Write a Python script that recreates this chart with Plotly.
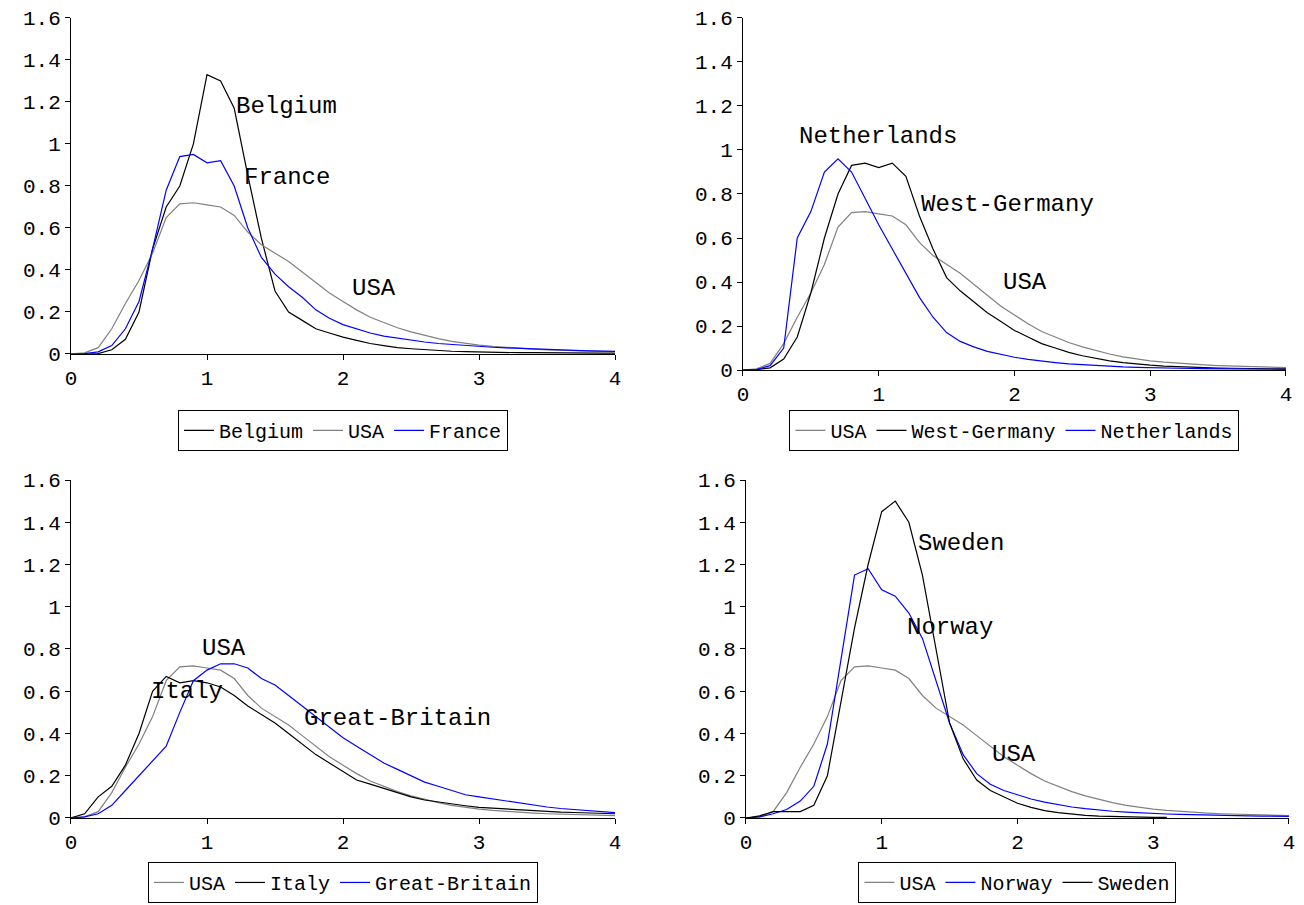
import plotly.graph_objects as go

x = [i / 10 for i in range(41)]

usa = [0, 0.005, 0.03, 0.12, 0.24, 0.35, 0.48, 0.65, 0.715, 0.72, 0.71, 0.70, 0.66, 0.58, 0.52, 0.48,
       0.44, 0.39, 0.34, 0.29, 0.25, 0.21, 0.175, 0.15, 0.125, 0.105, 0.088, 0.073, 0.06, 0.05, 0.042,
       0.036, 0.031, 0.027, 0.023, 0.02, 0.018, 0.016, 0.014, 0.012, 0.011]
belgium = [0, 0, 0.002, 0.02, 0.07, 0.2, 0.5, 0.7, 0.8, 1.0, 1.33, 1.30, 1.17, 0.85, 0.55, 0.3,
           0.2, 0.16, 0.12, 0.1, 0.08, 0.065, 0.05, 0.04, 0.03, 0.025, 0.02, 0.016, 0.013, 0.011, 0.009,
           0.008, 0.007, 0.006, 0.006, 0.005, 0.005, 0.005, 0.004, 0.004, 0.004]
france = [0, 0.002, 0.01, 0.04, 0.12, 0.25, 0.5, 0.78, 0.94, 0.95, 0.91, 0.92, 0.8, 0.6, 0.46, 0.38,
          0.32, 0.27, 0.21, 0.17, 0.14, 0.12, 0.1, 0.085, 0.075, 0.065, 0.057, 0.05, 0.045, 0.04, 0.036,
          0.032, 0.029, 0.026, 0.023, 0.021, 0.019, 0.017, 0.015, 0.013, 0.012]
west_germany = [0, 0.002, 0.01, 0.05, 0.15, 0.35, 0.6, 0.8, 0.93, 0.94, 0.92, 0.94, 0.88, 0.7, 0.55, 0.42,
                0.36, 0.31, 0.26, 0.22, 0.18, 0.15, 0.12, 0.1, 0.08, 0.065, 0.052, 0.042, 0.034, 0.027, 0.022,
                0.018, 0.015, 0.012, 0.01, 0.009, 0.008, 0.007, 0.006, 0.005, 0.005]
netherlands = [0, 0.002, 0.02, 0.1, 0.6, 0.72, 0.9, 0.96, 0.9, 0.78, 0.66, 0.55, 0.44, 0.33, 0.24, 0.17,
               0.13, 0.105, 0.085, 0.07, 0.058, 0.048, 0.04, 0.034, 0.028, 0.024, 0.02, 0.017, 0.014, 0.012, 0.01,
               0.009, 0.008, 0.007, 0.006, 0.005, 0.005, 0.004, 0.004, 0.003, 0.003]
italy = [0, 0.02, 0.1, 0.15, 0.25, 0.4, 0.6, 0.67, 0.64, 0.65, 0.64, 0.62, 0.58, 0.53, 0.49, 0.45,
         0.4, 0.35, 0.3, 0.26, 0.22, 0.18, 0.16, 0.14, 0.12, 0.1, 0.085, 0.075, 0.065, 0.058, 0.05,
         0.046, 0.042, 0.038, 0.034, 0.031, 0.028, 0.026, 0.024, 0.022, 0.02]
great_britain = [0, 0.005, 0.02, 0.06, 0.13, 0.2, 0.27, 0.34, 0.5, 0.65, 0.7, 0.73, 0.73, 0.71, 0.66, 0.63,
                 0.58, 0.53, 0.48, 0.43, 0.38, 0.34, 0.3, 0.26, 0.23, 0.2, 0.17, 0.15, 0.13, 0.11, 0.1,
                 0.09, 0.08, 0.07, 0.06, 0.052, 0.045, 0.04, 0.034, 0.03, 0.025]
sweden = [0, 0.01, 0.03, 0.03, 0.03, 0.06, 0.2, 0.55, 0.9, 1.2, 1.45, 1.5, 1.4, 1.15, 0.8, 0.45,
          0.28, 0.18, 0.13, 0.1, 0.07, 0.05, 0.035, 0.025, 0.018, 0.012, 0.009, 0.007, 0.005, 0.004, 0.003,
          0.003]
norway = [0, 0.005, 0.02, 0.04, 0.08, 0.15, 0.35, 0.75, 1.15, 1.18, 1.08, 1.05, 0.97, 0.85, 0.65, 0.45,
          0.3, 0.21, 0.16, 0.13, 0.11, 0.09, 0.075, 0.062, 0.052, 0.044, 0.037, 0.032, 0.028, 0.024, 0.021,
          0.019, 0.017, 0.015, 0.013, 0.012, 0.011, 0.01, 0.009, 0.008, 0.008]

BLACK, GREY, BLUE = "#000000", "#808080", "#0000ff"
FONT = "Liberation Mono"

panels = [
    # (series, x domain, y domain, legend y, labels)
    ([("Belgium", belgium, BLACK), ("USA", usa, GREY), ("France", france, BLUE)],
     [0.0486, 0.4684], [0.6143, 0.9889], 0.552,
     [("Belgium", 1.2, 1.18), ("France", 1.26, 0.84), ("USA", 2.05, 0.31)]),
    ([("USA", usa, GREY), ("West-Germany", west_germany, BLACK), ("Netherlands", netherlands, BLUE)],
     [0.5671, 0.9861], [0.5964, 0.9889], 0.552,
     [("Netherlands", 0.4, 1.06), ("West-Germany", 1.3, 0.75), ("USA", 1.9, 0.4)]),
    ([("USA", usa, GREY), ("Italy", italy, BLACK), ("Great-Britain", great_britain, BLUE)],
     [0.0486, 0.4684], [0.0970, 0.4738], 0.048,
     [("USA", 0.95, 0.8), ("Italy", 0.57, 0.6), ("Great-Britain", 1.7, 0.47)]),
    ([("USA", usa, GREY), ("Norway", norway, BLUE), ("Sweden", sweden, BLACK)],
     [0.5694, 0.9884], [0.0970, 0.4738], 0.048,
     [("Sweden", 1.25, 1.3), ("Norway", 1.17, 0.9), ("USA", 1.8, 0.3)]),
]

fig = go.Figure()
layout = dict(width=1296, height=897, margin=dict(l=0, r=0, t=0, b=0, autoexpand=False),
              plot_bgcolor="white", paper_bgcolor="white",
              font=dict(family=FONT, size=22, color="black"), annotations=[])

for i, (series, xd, yd, ly, labels) in enumerate(panels):
    n = "" if i == 0 else str(i + 1)
    leg = "legend" if i == 0 else f"legend{i + 1}"
    for name, ys, color in series:
        fig.add_trace(go.Scatter(x=x[:len(ys)], y=ys, mode="lines", name=name,
                                 line=dict(color=color, width=1.2),
                                 xaxis="x" + n, yaxis="y" + n, legend=leg))
    axstyle = dict(showgrid=False, zeroline=False, showline=True, linecolor="black",
                   ticks="outside", ticklen=5, tickcolor="black", tickfont=dict(size=21),
                   automargin=False)
    layout["xaxis" + n] = dict(domain=xd, range=[0, 4], dtick=1, anchor="y" + n, **axstyle)
    layout["yaxis" + n] = dict(domain=yd, range=[0, 1.6], dtick=0.2, anchor="x" + n, **axstyle)
    layout[leg] = dict(orientation="h", x=(xd[0] + xd[1]) / 2, xanchor="center",
                       y=ly, yanchor="top", bordercolor="black", borderwidth=1,
                       font=dict(size=20), itemwidth=30, tracegroupgap=0)
    for text, lx, lyy in labels:
        layout["annotations"].append(dict(text=text, x=lx, y=lyy, xref="x" + n, yref="y" + n,
                                          showarrow=False, xanchor="left", font=dict(size=24)))

fig.update_layout(**layout)
fig.write_html("out.html")
